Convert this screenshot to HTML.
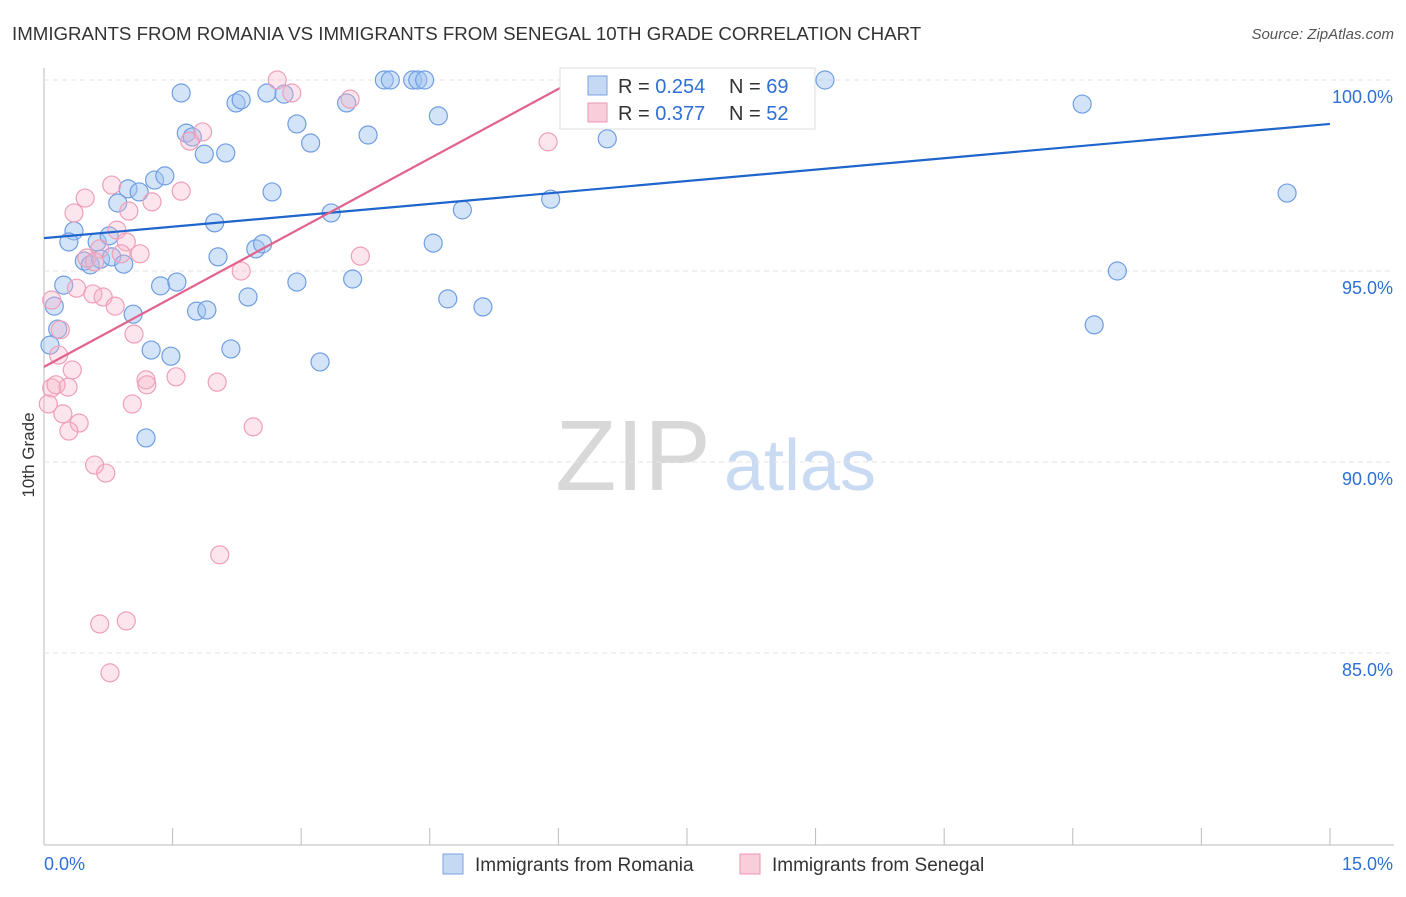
<!DOCTYPE html>
<html><head><meta charset="utf-8"><style>
body{margin:0;background:#fff;font-family:"Liberation Sans",sans-serif;}
svg text{font-family:"Liberation Sans",sans-serif;}
</style></head><body>
<svg id="chart" width="1406" height="892">
<text x="12" y="40" font-size="18.7" fill="#333">IMMIGRANTS FROM ROMANIA VS IMMIGRANTS FROM SENEGAL 10TH GRADE CORRELATION CHART</text>
<text x="1394" y="39" font-size="15" fill="#555" text-anchor="end" font-style="italic">Source: ZipAtlas.com</text>
<text x="34" y="455" font-size="17" fill="#333" transform="rotate(-90 34 455)" text-anchor="middle">10th Grade</text>
<g><text x="633" y="490" font-size="100" fill="#d8d8d8" text-anchor="middle" font-family="Liberation Serif">ZIP</text><text x="800" y="490" font-size="72" fill="#c9daf3" text-anchor="middle">atlas</text></g>
<g id="grid"></g><g id="pts"></g><g id="lines"></g>
<g>
<rect x="560" y="68" width="255" height="61" fill="#fff" stroke="#ddd"/>
<rect x="588" y="76" width="19" height="19" fill="#c5d9f5" stroke="#7aa3e0"/>
<text x="618" y="93" font-size="20" fill="#333">R = <tspan fill="#2f6fd6">0.254</tspan></text>
<text x="729" y="93" font-size="20" fill="#333">N = <tspan fill="#2f6fd6">69</tspan></text>
<rect x="588" y="103" width="19" height="19" fill="#f9cdd9" stroke="#eb96b0"/>
<text x="618" y="120" font-size="20" fill="#333">R = <tspan fill="#2f6fd6">0.377</tspan></text>
<text x="729" y="120" font-size="20" fill="#333">N = <tspan fill="#2f6fd6">52</tspan></text>
</g>
<g>
<rect x="443" y="854" width="20" height="20" fill="#c5d9f5" stroke="#7aa3e0"/>
<text x="475" y="871" font-size="19" fill="#333">Immigrants from Romania</text>
<rect x="740" y="854" width="20" height="20" fill="#f9cdd9" stroke="#eb96b0"/>
<text x="772" y="871" font-size="19" fill="#333">Immigrants from Senegal</text>
</g>
</svg>
<script>
const xTicks=[0,1.5,3,4.5,6,7.5,9,10.5,12,13.5,15];
const yTicks=[100,95,90,85];
const yTickLabels=["100.0%","95.0%","90.0%","85.0%"];
const romaniaX=[1.60,2.24,2.30,2.60,2.80,3.53,3.97,4.04,4.30,4.36,4.44,4.60,9.11,12.11,1.66,1.73,1.87,2.12,2.95,3.11,3.78,6.57,2.66,1.29,1.41,0.98,1.11,0.86,1.99,3.35,4.88,5.91,14.50,0.35,0.29,0.62,0.76,0.47,0.54,0.66,0.79,0.93,2.03,2.47,2.55,4.54,12.52,0.23,1.36,1.55,2.95,3.60,2.38,4.71,5.12,12.25,1.04,1.78,1.90,0.12,0.16,0.07,1.25,1.48,2.18,3.22,1.19];
const romaniaY=[99.66,99.40,99.48,99.66,99.63,99.40,100,100,100,100,100,99.06,100,99.37,98.61,98.51,98.06,98.09,98.85,98.35,98.56,98.46,97.07,97.38,97.49,97.15,97.07,96.78,96.26,96.52,96.60,96.88,97.04,96.05,95.76,95.76,95.92,95.26,95.16,95.31,95.37,95.18,95.37,95.58,95.71,95.73,95.00,94.63,94.61,94.71,94.71,94.79,94.32,94.27,94.06,93.59,93.87,93.95,93.98,94.08,93.48,93.06,92.93,92.77,92.96,92.62,90.63];
const senegalX=[2.72,2.89,3.57,5.88,1.70,1.85,1.60,1.26,0.79,0.48,0.35,0.99,0.85,0.96,1.12,0.65,0.50,0.59,0.90,2.30,3.69,0.38,0.57,0.69,0.83,1.05,0.09,0.19,0.17,0.33,0.09,0.28,1.19,1.20,1.54,2.02,0.22,0.41,0.29,0.05,1.03,2.44,0.59,0.72,2.05,0.65,0.96,0.77,0.14];
const senegalY=[100,99.66,99.50,98.38,98.40,98.64,97.09,96.81,97.25,96.91,96.52,96.57,96.07,95.76,95.45,95.58,95.34,95.24,95.45,95.00,95.39,94.55,94.40,94.32,94.08,93.35,94.24,93.46,92.80,92.41,91.94,91.96,92.15,92.02,92.23,92.09,91.26,91.02,90.81,91.52,91.52,90.92,89.92,89.71,87.57,85.76,85.84,84.48,92.02];
const romaniaTrend=[95.86,98.85];
const senegalTrend=[92.49,99.79,6.02];
const X=v=>44+v*85.73, Y=v=>80+(100-v)*38.2;
const NS="http://www.w3.org/2000/svg";
function mk(t,a,p){const e=document.createElementNS(NS,t);for(const k in a)e.setAttribute(k,a[k]);p.appendChild(e);return e;}
const grid=document.getElementById('grid');
mk('line',{x1:44,y1:68,x2:44,y2:845,stroke:'#bbb'},grid);
mk('line',{x1:44,y1:845,x2:1394,y2:845,stroke:'#bbb'},grid);
yTicks.forEach((t,i)=>{
 const l=mk('line',{x1:44,y1:Y(t),x2:1394,y2:Y(t),stroke:'#e3e3e3','stroke-dasharray':'5,4'},grid);
 
 
 const tx=mk('text',{x:1393,y:Y(t)+23,'font-size':18,fill:'#2f6fd6','text-anchor':'end'},grid);
 tx.textContent=yTickLabels[i];
 
 
});
xTicks.forEach(t=>{
 const l=mk('line',{x1:X(t),y1:828,x2:X(t),y2:845,stroke:'#bbb'},grid);
 
 
});
const a=mk('text',{x:44,y:870,'font-size':18,fill:'#2f6fd6'},grid);a.textContent="0.0%";


const b=mk('text',{x:1393,y:870,'font-size':18,fill:'#2f6fd6','text-anchor':'end'},grid);b.textContent="15.0%";


const pts=document.getElementById('pts');
romaniaX.forEach((x,i)=>{const c=mk('circle',{cx:X(x),cy:Y(romaniaY[i]),r:9,fill:'rgba(160,195,240,0.45)',stroke:'#6f9ee3','stroke-width':1.2},pts);
 
 });
senegalX.forEach((x,i)=>{const c=mk('circle',{cx:X(x),cy:Y(senegalY[i]),r:9,fill:'rgba(245,180,200,0.35)',stroke:'#ef9fb8','stroke-width':1.2},pts);
 
 });
const lines=document.getElementById('lines');
const l1=mk('line',{x1:X(0),y1:Y(romaniaTrend[0]),x2:X(15),y2:Y(romaniaTrend[1]),stroke:'#1f66cc','stroke-width':2.2},lines);


const l2=mk('line',{x1:X(0),y1:Y(senegalTrend[0]),x2:X(senegalTrend[2]),y2:Y(senegalTrend[1]),stroke:'#e2628c','stroke-width':2.2},lines);


</script>
</body></html>
